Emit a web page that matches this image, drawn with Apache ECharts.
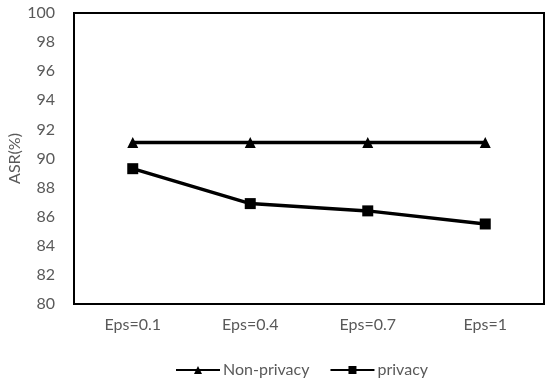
<!DOCTYPE html>
<html><head><meta charset="utf-8">
<script src="https://cdn.jsdelivr.net/npm/echarts@6/dist/echarts.min.js"></script>
<style>html,body{margin:0;padding:0;background:#fff}#c{width:550px;height:379px}</style>
</head><body><div id="c"></div>
<script>
const categories = ['Eps=0.1', 'Eps=0.4', 'Eps=0.7', 'Eps=1'];
const nonPrivacy = [91.1, 91.1, 91.1, 91.1];
const privacy = [89.3, 86.9, 86.4, 85.5];
const yTicks = {min: 80, max: 100, interval: 2};
const font = 'Lato, "Open Sans", sans-serif';
const chart = echarts.init(document.getElementById('c'));
chart.setOption({
  animation: false,
  grid: {left: 74, right: 6, top: 13, bottom: 75, show: true, borderColor: '#000', borderWidth: 2,
         outerBoundsMode: 'none', containLabel: false},
  xAxis: {
    type: 'category', data: categories, boundaryGap: true,
    axisLine: {show: true, lineStyle: {color: '#000', width: 2}},
    axisTick: {show: false},
    axisLabel: {color: '#595959', fontSize: 16, fontFamily: font, margin: 13}
  },
  yAxis: {
    type: 'value', min: yTicks.min, max: yTicks.max, interval: yTicks.interval,
    name: 'ASR(%)', nameLocation: 'middle', nameGap: 51, nameRotate: 90, nameMoveOverlap: false,
    nameTextStyle: {color: '#595959', fontSize: 16, fontFamily: font},
    axisLine: {show: true, lineStyle: {color: '#000', width: 2}},
    axisTick: {show: false},
    splitLine: {show: false},
    axisLabel: {color: '#595959', fontSize: 16, fontFamily: font, margin: 19}
  },
  legend: {
    top: 357, left: 170, itemWidth: 44, itemHeight: 10, itemGap: 20,
    textStyle: {color: '#595959', fontSize: 16, fontFamily: font, padding: [0,0,0,-2]},
    data: ['Non-privacy', 'privacy']
  },
  series: [
    {name: 'Non-privacy', type: 'line', data: nonPrivacy, symbol: 'triangle', symbolSize: 11,
     lineStyle: {color: '#000', width: 3.5}, itemStyle: {color: '#000'}},
    {name: 'privacy', type: 'line', data: privacy, symbol: 'rect', symbolSize: 11,
     lineStyle: {color: '#000', width: 3.5}, itemStyle: {color: '#000'}}
  ]
});
</script></body></html>
